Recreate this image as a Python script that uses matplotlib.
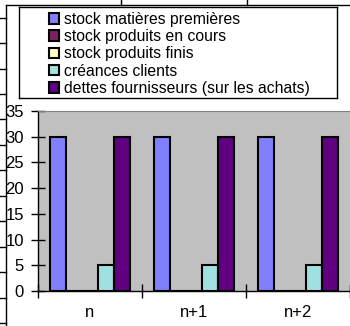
import matplotlib
matplotlib.use("Agg")
import matplotlib.pyplot as plt
from matplotlib.lines import Line2D
import numpy as np

plt.rcParams['font.family'] = ['Liberation Sans', 'DejaVu Sans']

# data
periods = ['n', 'n+1', 'n+2']
series_names = ['stock matières premières', 'stock produits en cours',
                'stock produits finis', 'créances clients',
                'dettes fournisseurs (sur les achats)']
stock_mp = [30, 30, 30]
stock_encours = [0, 0, 0]
stock_finis = [0, 0, 0]
creances = [5, 5, 5]
dettes = [30, 30, 30]
y_ticks = [0, 5, 10, 15, 20, 25, 30, 35]

colors = ['#8080FF', '#802060', '#FFFFC0', '#A0E0E0', '#600080']

W, H = 350, 326
fig = plt.figure(figsize=(W / 100, H / 100), dpi=100)
fig.patch.set_facecolor('white')

# spreadsheet frame / cell lines around the chart
def fig_line(x0, y0, x1, y1):
    fig.add_artist(Line2D([x0 / W, x1 / W], [1 - y0 / H, 1 - y1 / H],
                          color='black', lw=1))

fig_line(6, 5, 6, H)
fig_line(6, 5, W, 5)
for yc in [18, 43, 69, 94, 119, 145, 170, 196, 221, 247, 272, 298, 323]:
    fig_line(0, yc, 6, yc)
for xc in [121, 247]:
    fig_line(xc, 0, xc, 5)

ax = fig.add_axes([38 / W, (H - 291) / H, 312 / W, 180 / H])
ax.set_facecolor('#C0C0C0')

x = np.arange(len(periods))
width = 16 / 104
all_series = [stock_mp, stock_encours, stock_finis, creances, dettes]
handles = []
for i, vals in enumerate(all_series):
    b = ax.bar(x + (i - 2) * width, vals, width, color=colors[i],
               edgecolor='black', linewidth=1.5, label=series_names[i])
    handles.append(b)

ax.set_xlim(-0.5, 2.5)
ax.set_ylim(0, 35)
ax.set_yticks(y_ticks)
ax.set_yticklabels([str(v) for v in y_ticks], fontsize=12)
ax.set_xticks([-0.5, 0.5, 1.5, 2.5])
ax.set_xticklabels([])
ax.set_xticks(x, minor=True)
ax.set_xticklabels(periods, minor=True, fontsize=12)
ax.tick_params(axis='x', which='minor', length=0, pad=10)
ax.tick_params(axis='x', which='major', direction='inout', length=10, width=1)
ax.tick_params(axis='y', direction='inout', length=10, width=1, pad=5)

ax.spines['right'].set_visible(False)
ax.spines['top'].set_color('#808080')
ax.spines['left'].set_linewidth(1)
ax.spines['bottom'].set_linewidth(1)

# legend box
lax = fig.add_axes([19 / W, 1 - 98 / H, 318 / W, 91 / H])
lax.set_xticks([])
lax.set_yticks([])
for s in lax.spines.values():
    s.set_linewidth(1)
    s.set_color('black')
lax.legend(handles=handles, labels=series_names, loc='upper left',
           bbox_to_anchor=(30 / 318, 1 - 5 / 91), frameon=False,
           fontsize=11.3, handlelength=0.65, handleheight=0.65,
           handletextpad=0.3, labelspacing=0.14, borderpad=0,
           borderaxespad=0)

fig.savefig('out.png', dpi=100)
